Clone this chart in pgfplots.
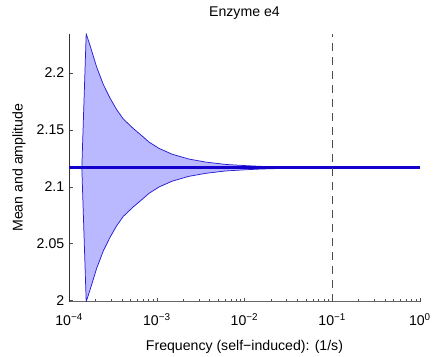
\documentclass[border=0pt]{standalone}
\usepackage{pgfplots}
\pgfplotsset{compat=1.18}
\usepgfplotslibrary{fillbetween}
\usepackage{fontspec}
\setmainfont{Liberation Sans}
\definecolor{fillblue}{RGB}{186,184,255}
\definecolor{edgeblue}{RGB}{40,30,210}
\definecolor{meanblue}{RGB}{20,0,205}
\pgfplotstableread{
x y
1.3967e-4 2.11668
1.5668e-4 2.23432
1.7394e-4 2.22367
2.066e-4 2.20489
2.4612e-4 2.18961
2.9316e-4 2.17782
3.4836e-4 2.16777
4.1497e-4 2.15947
5.3863e-4 2.15118
6.994e-4 2.14375
8.180e-4 2.13913
1.062e-3 2.13362
1.502e-3 2.12847
2.323e-3 2.12428
3.594e-3 2.12166
6.057e-3 2.11956
1.021e-2 2.11851
1.563e-2 2.11782
4.105e-2 2.11694
1 2.11668
}\uptab
\pgfplotstableread{
x y
1.3967e-4 2.11668
1.5668e-4 1.99904
1.7394e-4 2.00969
2.066e-4 2.02847
2.4612e-4 2.04375
2.9316e-4 2.05554
3.4836e-4 2.06559
4.1497e-4 2.07389
5.3863e-4 2.08218
6.994e-4 2.08961
8.180e-4 2.09423
1.062e-3 2.09974
1.502e-3 2.10489
2.323e-3 2.10908
3.594e-3 2.11170
6.057e-3 2.11380
1.021e-2 2.11485
1.563e-2 2.11554
4.105e-2 2.11642
1 2.11668
}\lowtab
\begin{document}
\begin{tikzpicture}
\begin{axis}[
  scale only axis,
  width=352.8bp, height=269.3bp,
  xmode=log,
  xmin=1e-4, xmax=1,
  ymin=1.9991, ymax=2.2343,
  axis x line*=bottom,
  axis y line*=left,
  axis line style={-},
  x axis line style={black!60, line width=0.8pt},
  y axis line style={black!80},
  xtick={1e-4,1e-3,1e-2,1e-1,1},
  xticklabels={10\textsuperscript{−4},10\textsuperscript{−3},10\textsuperscript{−2},10\textsuperscript{−1},10\textsuperscript{0}},
  ytick={2,2.05,2.1,2.15,2.2},
  yticklabels={2,2.05,2.1,2.15,2.2},
  tick align=inside,
  major tick length=4bp,
  minor tick length=2.5bp,
  tick style={black!70},
  ytick pos=left, xtick pos=bottom,
  ticklabel style={font=\fontsize{14.2bp}{17bp}\selectfont},
  xticklabel style={anchor=base, yshift=-24.5bp},
  yticklabel style={anchor=east, xshift=-1.4bp},
  title={Enzyme e4},
  title style={font=\fontsize{14.2bp}{17bp}\selectfont, at={(axis description cs:0.5,1)}, anchor=base, yshift=11bp},
  xlabel={Frequency (self−induced): (1/s)},
  ylabel={Mean and amplitude},
  label style={font=\fontsize{14.2bp}{17bp}\selectfont},
  xlabel style={at={(axis description cs:0.5,0)}, anchor=base, yshift=-49.5bp},
  ylabel style={at={(axis description cs:0,0.5)}, anchor=center, yshift=50.5bp},
]
\addplot[name path=upper, draw=none, forget plot] table {\uptab};
\addplot[name path=lower, draw=none, forget plot] table {\lowtab};
\addplot[fillblue, draw=none] fill between[of=upper and lower];
\addplot[edgeblue, line width=0.75pt] table {\uptab};
\addplot[edgeblue, line width=0.75pt] table {\lowtab};
\addplot[meanblue, line width=2.8pt] coordinates {(1e-4,2.11668) (1,2.11668)};
\addplot[black!70, line width=0.6pt, dash pattern=on 8bp off 6bp] coordinates {(0.1,1.9991) (0.1,2.2343)};
\end{axis}
\path[use as bounding box] (-69.5bp,-54.7bp) rectangle (364.5bp,303.3bp);
\end{tikzpicture}
\end{document}
